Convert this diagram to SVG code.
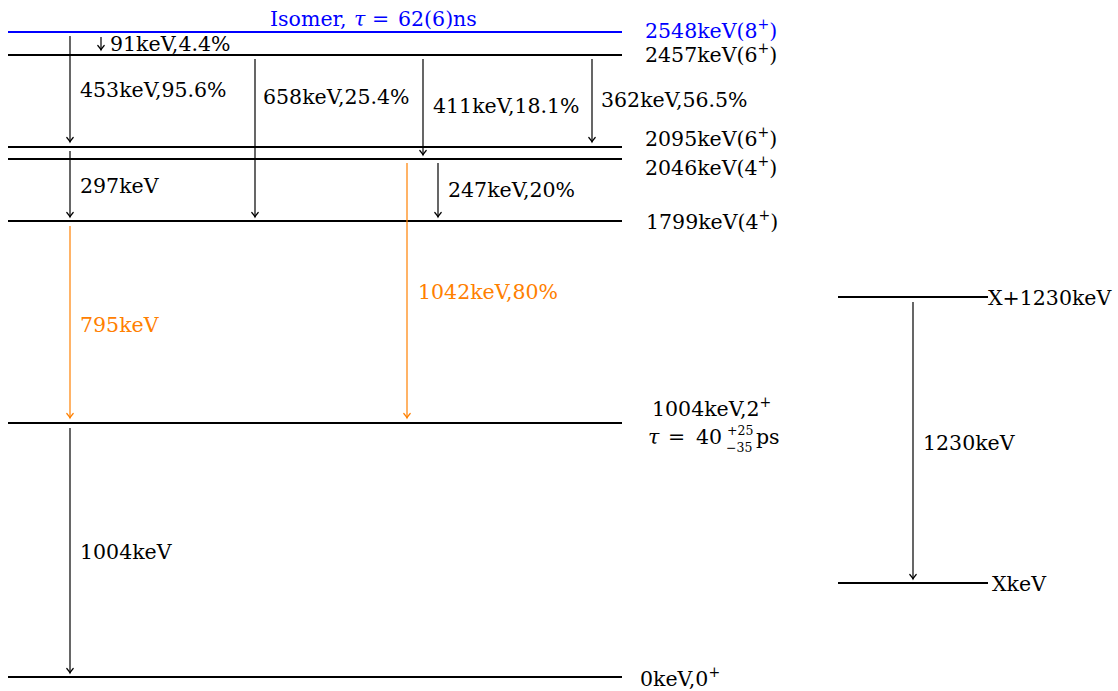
<svg xmlns="http://www.w3.org/2000/svg" width="1118" height="691" viewBox="0 0 1118 691">
<style>
text { font-family: "DejaVu Serif", "Liberation Serif", serif; font-size: 20.5px; fill: #000; }
.lvl { stroke: #000; stroke-width: 1.8; fill: none; }
.iso { stroke: #0000ff; }
.blue { fill: #0000ff; }
.orange { fill: #ff8000; }
.gam { stroke: #000; stroke-width: 1.2; fill: none; marker-end: url(#ahk); }
.gamo { stroke: #ff8000; stroke-width: 1.2; fill: none; marker-end: url(#aho); }
.sup { font-size: 14px; }
.ss { font-size: 12.5px; }
.it { font-style: italic; }
</style>
<defs>
<marker id="ahk" markerUnits="userSpaceOnUse" markerWidth="10" markerHeight="10" refX="0" refY="0" viewBox="-6 -5 8 10" orient="auto" overflow="visible">
<path d="M-4.5,-3.2 Q-1.5,-0.6 0,0 Q-1.5,0.6 -4.5,3.2" fill="none" stroke="#000" stroke-width="1.2" stroke-linecap="round"/>
</marker>
<marker id="aho" markerUnits="userSpaceOnUse" markerWidth="10" markerHeight="10" refX="0" refY="0" viewBox="-6 -5 8 10" orient="auto" overflow="visible">
<path d="M-4.5,-3.2 Q-1.5,-0.6 0,0 Q-1.5,0.6 -4.5,3.2" fill="none" stroke="#ff8000" stroke-width="1.2" stroke-linecap="round"/>
</marker>
</defs>

<g id="level-2548">
<line class="lvl iso" x1="8" y1="32" x2="622" y2="32"/>
<text class="blue" x="270" y="26">Isomer,<tspan class="it" x="354">τ</tspan><tspan x="372">=</tspan><tspan x="398">62(6)ns</tspan></text>
<text class="blue" x="645" y="38">2548keV(8<tspan class="sup" dy="-9">+</tspan><tspan dy="9">)</tspan></text>
</g>
<g id="level-2457">
<line class="lvl" x1="8" y1="55" x2="622" y2="55"/>
<text x="645" y="62">2457keV(6<tspan class="sup" dy="-9">+</tspan><tspan dy="9">)</tspan></text>
</g>
<g id="level-2095">
<line class="lvl" x1="8" y1="147" x2="622" y2="147"/>
<text x="645" y="146">2095keV(6<tspan class="sup" dy="-9">+</tspan><tspan dy="9">)</tspan></text>
</g>
<g id="level-2046">
<line class="lvl" x1="8" y1="159" x2="622" y2="159"/>
<text x="645" y="175">2046keV(4<tspan class="sup" dy="-9">+</tspan><tspan dy="9">)</tspan></text>
</g>
<g id="level-1799">
<line class="lvl" x1="8" y1="221" x2="622" y2="221"/>
<text x="646" y="229">1799keV(4<tspan class="sup" dy="-9">+</tspan><tspan dy="9">)</tspan></text>
</g>
<g id="level-1004">
<line class="lvl" x1="8" y1="423" x2="622" y2="423"/>
<text x="652" y="416">1004keV,2<tspan class="sup" dy="-9">+</tspan></text>
<text x="648" y="444"><tspan class="it">τ</tspan><tspan x="668">=</tspan><tspan x="696">40</tspan><tspan class="ss" x="727" y="435">+25</tspan><tspan class="ss" x="726" y="452">−35</tspan><tspan x="756" y="444">ps</tspan></text>
</g>
<g id="level-0">
<line class="lvl" x1="8" y1="677" x2="622" y2="677"/>
<text x="640" y="686">0keV,0<tspan class="sup" dy="-9">+</tspan></text>
</g>
<g id="level-X1230">
<line class="lvl" x1="838" y1="297" x2="988" y2="297"/>
<text x="988" y="305">X+1230keV</text>
</g>
<g id="level-X">
<line class="lvl" x1="838" y1="583" x2="988" y2="583"/>
<text x="992" y="591">XkeV</text>
</g>

<g id="connectors">
<line class="gam" x1="101" y1="37" x2="101" y2="50"/>
<line class="gam" x1="70" y1="36" x2="70" y2="142"/>
<line class="gam" x1="255" y1="59" x2="255" y2="217"/>
<line class="gam" x1="423" y1="59" x2="423" y2="155"/>
<line class="gam" x1="592" y1="59" x2="592" y2="142"/>
<line class="gam" x1="70" y1="151" x2="70" y2="217"/>
<line class="gam" x1="438" y1="163" x2="438" y2="217"/>
<line class="gamo" x1="70" y1="226" x2="70" y2="418"/>
<line class="gamo" x1="407" y1="163" x2="407" y2="418"/>
<line class="gam" x1="70" y1="428" x2="70" y2="673"/>
<line class="gam" x1="913" y1="302" x2="913" y2="579"/>
<text x="110" y="51">91keV,4.4%</text>
<text x="80" y="97">453keV,95.6%</text>
<text x="263" y="104">658keV,25.4%</text>
<text x="433" y="113">411keV,18.1%</text>
<text x="601" y="107">362keV,56.5%</text>
<text x="80" y="193">297keV</text>
<text x="448" y="197">247keV,20%</text>
<text class="orange" x="80" y="332">795keV</text>
<text class="orange" x="418" y="299">1042keV,80%</text>
<text x="80" y="559">1004keV</text>
<text x="923" y="450">1230keV</text>
</g>
</svg>
